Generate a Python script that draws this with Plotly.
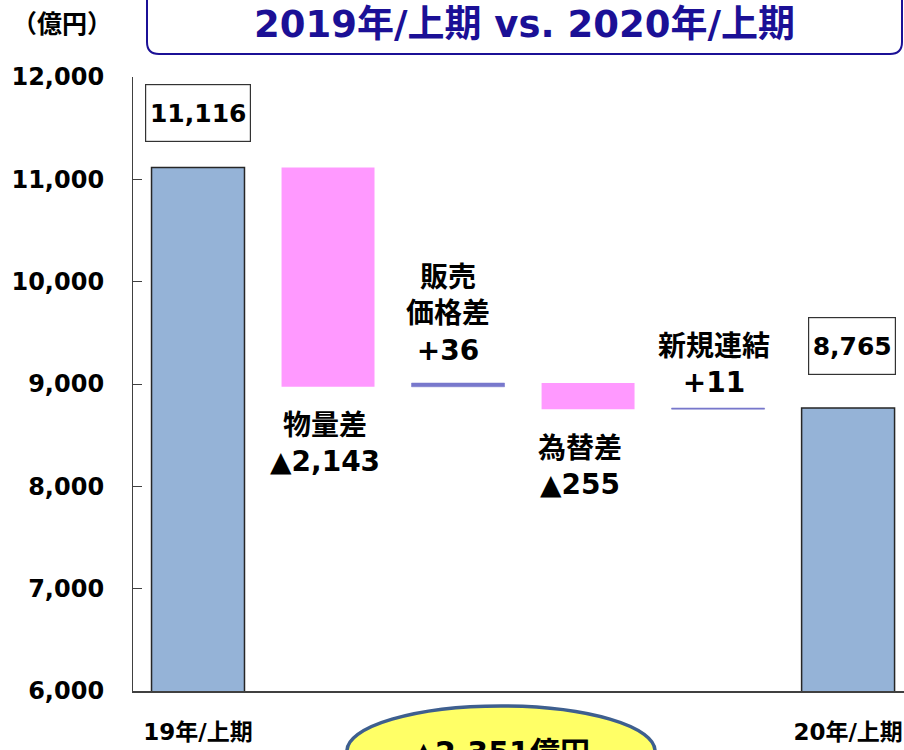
import plotly.graph_objects as go
import numpy as np

# ---- data ----
categories = ["19年/上期", "物量差", "販売価格差", "為替差", "新規連結", "20年/上期"]
values = [11116, -2143, 36, -255, 11, 8765]
measures = ["absolute", "relative", "relative", "relative", "relative", "total"]
step_labels = ["", "物量差<br>▲2,143", "販売<br>価格差<br>+36", "為替差<br>▲255", "新規連結<br>+11", ""]
total_labels = ["11,116", "", "", "", "", "8,765"]
x_tick_text = ["19年/上期", "", "", "", "", "20年/上期"]
y_tick_vals = [6000, 7000, 8000, 9000, 10000, 11000, 12000]
y_tick_text = ["6,000", "7,000", "8,000", "9,000", "10,000", "11,000", "12,000"]
title_text = "2019年/上期 vs. 2020年/上期"
unit_text = "（億円）"
summary_text = "▲2,351億円"

FONT = "DejaVu Sans, Noto Sans CJK JP, sans-serif"
CJK = "Noto Sans CJK JP, DejaVu Sans, sans-serif"
BLUE = "#95b3d7"
PINK = "#ff99ff"
INC = "#7878cc"
NAVY = "#1b1096"

xs = list(range(len(categories)))

fig = go.Figure()
fig.add_trace(go.Waterfall(
    x=xs,
    y=values,
    measure=measures,
    base=0,
    width=0.715,
    connector=dict(visible=False),
    totals=dict(marker=dict(color=BLUE, line=dict(color="#262626", width=1.5))),
    decreasing=dict(marker=dict(color=PINK, line=dict(width=0))),
    increasing=dict(marker=dict(color=INC, line=dict(color=INC, width=0.6))),
    hoverinfo="skip",
    showlegend=False,
))

# running levels
levels_after = np.cumsum([v if m != "total" else 0 for v, m in zip(values, measures)])
levels_before = np.concatenate([[0], levels_after[:-1]])

annotations = []
# total value boxes
box_shift = {0: (0, 54), 5: (4, 62)}
for i, t in enumerate(total_labels):
    if not t:
        continue
    top = values[i]
    dx, dy = box_shift[i]
    annotations.append(dict(
        x=xs[i], y=top, xref="x", yref="y", text=t, showarrow=False,
        xshift=dx, yshift=dy, width=102 if i == 0 else 84, height=54,
        bordercolor="#333333", borderwidth=1.2, borderpad=1, bgcolor="white",
        font=dict(family=FONT, size=25, color="black", weight="bold"),
    ))

# step labels
label_pos = {1: ("below", -3, 57), 2: ("above", -10, 69), 3: ("below", -8, 57), 4: ("above", -4, 44)}
for i, t in enumerate(step_labels):
    if not t:
        continue
    where, dx, dy = label_pos[i]
    lo = min(levels_before[i], levels_after[i])
    hi = max(levels_before[i], levels_after[i])
    anchor_y = hi if where == "above" else lo
    annotations.append(dict(
        x=xs[i], y=float(anchor_y), xref="x", yref="y", text=t, showarrow=False,
        xshift=dx, yshift=dy if where == "above" else -dy, yanchor="middle",
        font=dict(family=FONT, size=28, color="black", weight="bold"),
    ))


def px(x):
    return (x - 133) / 771


def py(y):
    return (691 - y) / 614


# unit & title & summary
annotations.append(dict(
    x=px(62), y=py(22), xref="paper", yref="paper", text=unit_text, showarrow=False,
    xanchor="center", yanchor="middle",
    font=dict(family=CJK, size=25, color="black", weight="bold"),
))
annotations.append(dict(
    x=px(524), y=py(25), xref="paper", yref="paper",
    text=title_text, showarrow=False, xanchor="center", yanchor="middle",
    font=dict(family=FONT, size=37, color=NAVY, weight="bold"),
))
annotations.append(dict(
    x=px(501), y=py(752), xref="paper", yref="paper",
    text=summary_text, showarrow=False, xanchor="center", yanchor="middle",
    font=dict(family=FONT, size=30, color="black", weight="bold"),
))

# rounded title box
x0, x1 = px(147), px(902)
yb, yt = py(54), py(-20)
rx, ry = 12 / 771, 12 / 614
path = (f"M {x0},{yt} L {x0},{yb + ry} Q {x0},{yb} {x0 + rx},{yb} "
        f"L {x1 - rx},{yb} Q {x1},{yb} {x1},{yb + ry} L {x1},{yt} Z")
shapes = [
    dict(type="path", xref="paper", yref="paper", path=path,
         line=dict(color=NAVY, width=2), fillcolor="rgba(0,0,0,0)", layer="above"),
    dict(type="circle", xref="paper", yref="paper",
         x0=px(347), x1=px(655), y0=py(706), y1=py(796),
         fillcolor="#ffff66", line=dict(color="#3e5f8f", width=3.5), layer="below"),
]

fig.update_layout(
    width=904, height=750,
    margin=dict(l=133, r=0, t=77, b=59),
    paper_bgcolor="white", plot_bgcolor="white",
    waterfallgap=0.285,
    xaxis=dict(
        range=[-0.5, 5.43], tickmode="array", tickvals=xs, ticktext=x_tick_text,
        showgrid=False, zeroline=False, showline=True, linecolor="#404040", linewidth=1.5,
        ticks="", ticklabelstandoff=20,
        tickfont=dict(family=FONT, size=23, color="black", weight="bold"),
    ),
    yaxis=dict(
        range=[6000, 12000], tickmode="array", tickvals=y_tick_vals, ticktext=y_tick_text,
        showgrid=False, zeroline=False, showline=True, linecolor="#404040", linewidth=1.2,
        ticks="inside", ticklen=9, tickcolor="#404040", tickwidth=1.2,
        ticklabelstandoff=23,
        tickfont=dict(family=FONT, size=24, color="black", weight="bold"),
    ),
    annotations=annotations,
    shapes=shapes,
)

fig.write_html("out.html", config={"displayModeBar": False},
               post_script="document.body.style.margin='0';")
